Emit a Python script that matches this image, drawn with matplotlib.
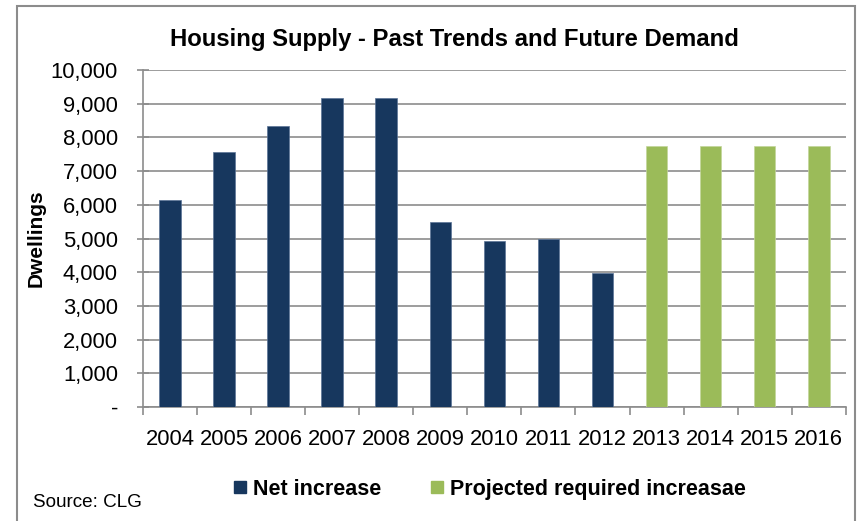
import matplotlib
matplotlib.use("Agg")
import matplotlib.pyplot as plt
from matplotlib.lines import Line2D
from matplotlib.patches import Rectangle
from matplotlib.ticker import FuncFormatter

plt.rcParams['font.family'] = ['Liberation Sans', 'DejaVu Sans']

years = ['2004', '2005', '2006', '2007', '2008', '2009', '2010',
         '2011', '2012', '2013', '2014', '2015', '2016']
net_increase = [6130, 7560, 8340, 9180, 9180, 5500, 4940, 5000, 3990]
projected = [7750, 7750, 7750, 7750]

NAVY = '#17375E'
GREEN = '#9BBB59'
GRID = '#8C8C8C'

fig = plt.figure(figsize=(8.63, 5.21), dpi=100)
ax = fig.add_axes([0.1657, 0.2188, 0.8143, 0.6468])

x_net = list(range(len(net_increase)))
x_proj = list(range(len(net_increase), len(years)))
ax.bar(x_net, net_increase, width=0.4, color=NAVY, edgecolor='#5B7497', linewidth=0.5, zorder=3)
ax.bar(x_proj, projected, width=0.4, color=GREEN, edgecolor='#C3D69B', linewidth=0.5, zorder=3)

ax.set_xlim(-0.5, len(years) - 0.5)
ax.set_ylim(0, 10000)
ax.set_yticks(range(0, 10001, 1000))
ax.yaxis.set_major_formatter(FuncFormatter(lambda v, p: '-' if v == 0 else f'{int(v):,}'))
ax.set_xticks(range(len(years)))
ax.set_xticklabels(years)
ax.set_xticks([i - 0.5 for i in range(len(years) + 1)], minor=True)

ax.tick_params(axis='x', which='major', length=0, pad=16, labelsize=15.8)
ax.tick_params(axis='x', which='minor', length=6, width=1.2, color=GRID, direction='out')
ax.tick_params(axis='y', length=8, width=1.2, color=GRID, direction='inout', pad=14, labelsize=15.8)

ax.grid(axis='y', color=GRID, linewidth=1.2, zorder=0)
ax.set_axisbelow(True)
for side in ['top', 'right']:
    ax.spines[side].set_visible(False)
for side in ['left', 'bottom']:
    ax.spines[side].set_color(GRID)
    ax.spines[side].set_linewidth(1.2)

ax.set_ylabel('Dwellings', fontsize=15, fontweight='bold')
ax.yaxis.set_label_coords(-0.138, 0.5)

fig.text(0.527, 0.925, 'Housing Supply - Past Trends and Future Demand',
         ha='center', va='center', fontsize=17.2, fontweight='bold')
fig.text(0.038, 0.036, 'Source: CLG', ha='left', va='center', fontsize=13.6)

handles = [Line2D([], [], linestyle='none', marker='s', markersize=8, color=NAVY),
           Line2D([], [], linestyle='none', marker='s', markersize=8, color=GREEN)]
fig.legend(handles, ['Net increase', 'Projected required increasae'], loc='center',
           bbox_to_anchor=(0.566, 0.061), ncol=2, frameon=False,
           prop={'size': 15.5, 'weight': 'bold'}, handletextpad=0.2,
           columnspacing=2.2, handlelength=0.8)

fig.add_artist(Rectangle((17 / 863, -0.05), (855 - 17) / 863, 1.05 - 6 / 521,
                         transform=fig.transFigure, fill=False,
                         edgecolor='#8C8C8C', linewidth=1.5))

fig.savefig('out.png', dpi=100)
